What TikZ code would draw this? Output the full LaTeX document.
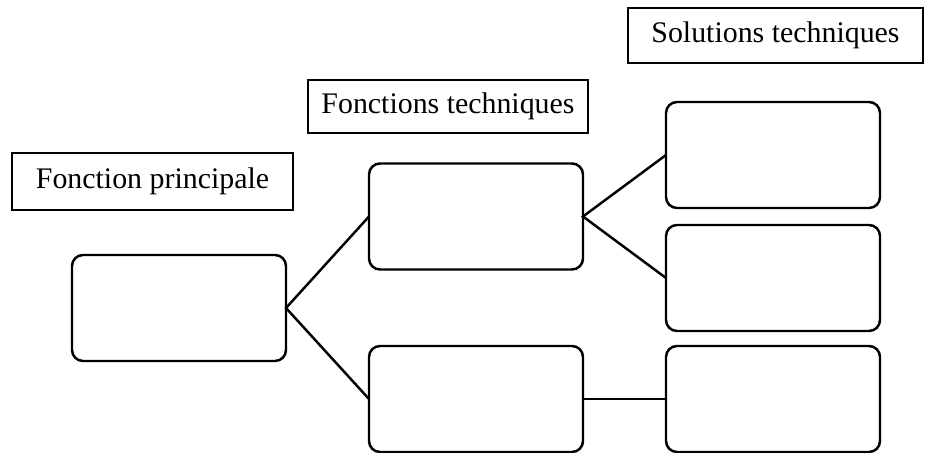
\documentclass[tikz,border=0pt]{standalone}
\usepackage{fontspec}
\setmainfont{Liberation Serif}
\begin{document}
\begin{tikzpicture}[
    x=1cm, y=1cm,
    every node/.style={font=\fontsize{17}{20}\selectfont},
    titlebox/.style={
        draw,
        line width=1.1pt,
        fill=white,
        align=center,
        inner sep=0pt,
        outer sep=0pt,
        minimum height=1.1cm
    },
    emptybox/.style={
        draw,
        line width=1.4pt,
        rounded corners=0.22cm,
        inner sep=0pt,
        outer sep=0pt,
        minimum width=4.28cm,
        minimum height=2.12cm
    },
    link/.style={line width=1.4pt}
]
    \useasboundingbox (0,0) rectangle (18.52,9.06);

    % Titres des colonnes
    \node[titlebox, minimum width=5.62cm, minimum height=1.14cm] (tprinc) at (3.05,5.43) {Fonction principale};
    \node[titlebox, minimum width=5.6cm, minimum height=1.06cm] (ttech) at (8.96,6.93) {Fonctions techniques};
    \node[titlebox, minimum width=5.9cm] (tsol) at (15.51,8.35) {Solutions techniques};

    % Boites vides
    \node[emptybox] (princ) at (3.58,2.90) {};

    \node[emptybox] (ft1) at (9.52,4.73) {};
    \node[emptybox] (ft2) at (9.52,1.08) {};

    \node[emptybox] (st1) at (15.46,5.96) {};
    \node[emptybox] (st2) at (15.46,3.50) {};
    \node[emptybox] (st3) at (15.46,1.08) {};

    % Liaisons
    \draw[link] (ft1.west) -- (princ.east) -- (ft2.west);
    \draw[link] (st1.west) -- (ft1.east) -- (st2.west);
    \draw[link] (ft2.east) -- (st3.west);

\end{tikzpicture}
\end{document}
